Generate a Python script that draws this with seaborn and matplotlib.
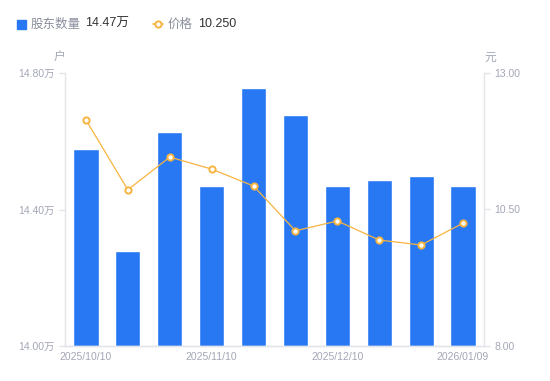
import matplotlib
matplotlib.use("Agg")
import matplotlib.pyplot as plt
from matplotlib.lines import Line2D
import numpy as np
import pandas as pd
import seaborn as sns

dates = ["2025/10/10", "2025/10/20", "2025/10/31", "2025/11/10", "2025/11/20",
         "2025/11/28", "2025/12/10", "2025/12/19", "2025/12/31", "2026/01/09"]
holders = [14.577, 14.278, 14.627, 14.469, 14.756, 14.677, 14.469, 14.486, 14.498, 14.47]
price = [12.14, 10.86, 11.46, 11.24, 10.93, 10.11, 10.29, 9.94, 9.85, 10.25]
left_ticks = [14.00, 14.40, 14.80]
right_ticks = [8.00, 10.50, 13.00]
shown_dates = ["2025/10/10", "2025/11/10", "2025/12/10", "2026/01/09"]

BLUE = "#2878f4"
ORANGE = "#f8b440"
GRID = "#e3e5ea"
TICK = "#a3a7b6"

sns.set_style("white")
plt.rcParams["font.family"] = ["Liberation Sans", "Noto Sans CJK SC", "DejaVu Sans"]
CJK = ["Noto Sans CJK SC", "DejaVu Sans"]

df = pd.DataFrame({"date": dates, "holders": holders, "price": price})

fig = plt.figure(figsize=(5.5, 3.81), dpi=100)
ax = fig.add_axes([65 / 550, 1 - 346 / 381, 419 / 550, 273 / 381])

sns.barplot(data=df, x="date", y="holders", color=BLUE, saturation=1,
            width=0.6, ax=ax)
ax.set_ylim(14.0, 14.8)
ax.set_xlim(-0.5, len(dates) - 0.5)
ax.set_yticks(left_ticks)
ax.set_yticklabels([f"{t:.2f}万" for t in left_ticks])
ax.set_xticks([dates.index(d) for d in shown_dates])
ax.set_xticklabels(shown_dates)
ax.set_xlabel("")
ax.set_ylabel("")

ax2 = ax.twinx()
sns.lineplot(x=np.arange(len(price)), y=price, ax=ax2, color=ORANGE,
             linewidth=0.9, marker="o", markersize=4.5, markerfacecolor="white",
             markeredgecolor=ORANGE, markeredgewidth=1.4)
ax2.set_ylim(8.0, 13.0)
ax2.set_yticks(right_ticks)
ax2.set_yticklabels([f"{t:.2f}" for t in right_ticks])

for a in (ax, ax2):
    for s in a.spines.values():
        s.set_color(GRID)
        s.set_linewidth(1)
    a.spines["top"].set_visible(False)
    a.tick_params(colors=TICK, labelsize=7.5, length=4, width=1)
    a.tick_params(axis="y", color=GRID)
ax.tick_params(axis="x", length=0, pad=4)
ax2.spines["left"].set_visible(False)
ax.spines["right"].set_visible(False)

fig.text(59 / 550, 1 - 57 / 381, "户", color=TICK, fontsize=8.5, ha="center",
         va="center", family=CJK)
fig.text(490 / 550, 1 - 57 / 381, "元", color=TICK, fontsize=8.5, ha="center",
         va="center", family=CJK)

# legend row
fig.patches.append(plt.Rectangle((17 / 550, 1 - 29 / 381), 9 / 550, 9 / 381,
                                 transform=fig.transFigure, color=BLUE))
fig.text(31 / 550, 1 - 24 / 381, "股东数量", color="#8a8f9c", fontsize=9,
         va="center", family=CJK)
fig.text(85 / 550, 1 - 24 / 381, f"{holders[-1]:.2f}万", color="#333333",
         fontsize=9, va="center")
fig.add_artist(Line2D([153 / 550, 163 / 550], [1 - 24 / 381] * 2,
                      transform=fig.transFigure, color=ORANGE, linewidth=1.2))
fig.add_artist(Line2D([158 / 550], [1 - 24 / 381], transform=fig.transFigure,
                      color=ORANGE, marker="o", markersize=4.5,
                      markerfacecolor="white", markeredgewidth=1.4))
fig.text(168 / 550, 1 - 24 / 381, "价格", color="#8a8f9c", fontsize=9,
         va="center", family=CJK)
fig.text(198 / 550, 1 - 24 / 381, f"{price[-1]:.3f}", color="#333333",
         fontsize=9, va="center")

fig.savefig("out.png", dpi=100)
